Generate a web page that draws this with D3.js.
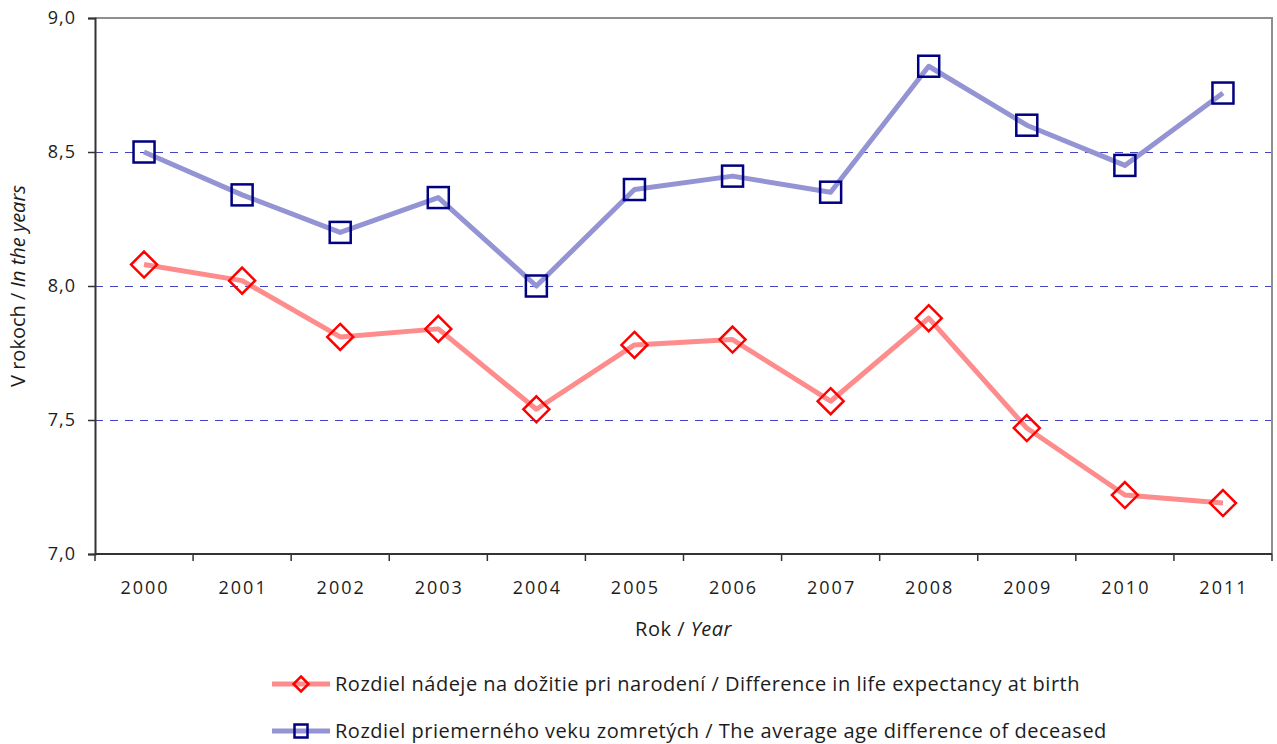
<!DOCTYPE html>
<html>
<head>
<meta charset="utf-8">
<script src="https://cdn.jsdelivr.net/npm/d3@7"></script>
<style>
  body { margin: 0; background: #fff; }
  svg { font-family: "Open Sans", "DejaVu Sans", sans-serif; fill: #1c1c1c; }
</style>
</head>
<body>
<svg id="chart" width="1277" height="744"></svg>
<script>
// Data
const years = ["2000", "2001", "2002", "2003", "2004", "2005", "2006", "2007", "2008", "2009", "2010", "2011"];
const lifeExpDiff = [8.08, 8.02, 7.81, 7.84, 7.54, 7.78, 7.80, 7.57, 7.88, 7.47, 7.22, 7.19];
const ageDiff = [8.50, 8.34, 8.20, 8.33, 8.00, 8.36, 8.41, 8.35, 8.82, 8.60, 8.45, 8.72];
const yTicks = [7.0, 7.5, 8.0, 8.5, 9.0];

const svg = d3.select("#chart");
const plotL = 95, plotR = 1272, plotT = 18, plotB = 554;

const x = d3.scaleBand().domain(years).range([plotL, plotR]);
const y = d3.scaleLinear().domain([7, 9]).range([plotB, plotT]);
const fmt = v => d3.format(".1f")(v).replace(".", ",");

// Gridlines (half-pixel offset keeps them crisp)
svg.append("g").selectAll("line")
    .data(yTicks.filter(t => t > 7 && t < 9))
    .join("line")
    .attr("x1", plotL).attr("x2", plotR)
    .attr("y1", d => y(d) + 0.5).attr("y2", d => y(d) + 0.5)
    .attr("stroke", "#4444c2")
    .attr("stroke-width", 1)
    .attr("stroke-dasharray", "8,7");

// Frame top/right
svg.append("path")
    .attr("d", `M${plotL},${plotT}H${plotR}V${plotB}`)
    .attr("fill", "none")
    .attr("stroke", "#8f8f8f")
    .attr("stroke-width", 2);

// Y axis
const yAxis = svg.append("g")
    .attr("transform", `translate(${plotL},0)`)
    .call(d3.axisLeft(y).tickValues(yTicks).tickFormat(fmt).tickSize(7).tickPadding(12));
yAxis.select(".domain").attr("stroke", "#333").attr("stroke-width", 2);
yAxis.selectAll(".tick line").attr("stroke", "#333").attr("stroke-width", 1.5);
yAxis.selectAll("text").attr("font-size", 18).attr("fill", "#1c1c1c")
    .attr("letter-spacing", 1)
    .attr("font-family", "Open Sans, sans-serif");

// X axis: ticks at band boundaries
const xAxis = svg.append("g").attr("transform", `translate(0,${plotB})`);
xAxis.append("line")
    .attr("x1", plotL).attr("x2", plotR)
    .attr("stroke", "#333").attr("stroke-width", 2);
xAxis.selectAll(".xt")
    .data(years.concat(["end"]))
    .join("line")
    .attr("class", "xt")
    .attr("x1", (d, i) => i < years.length ? x(d) : x.range()[1])
    .attr("x2", (d, i) => i < years.length ? x(d) : x.range()[1])
    .attr("y1", 0).attr("y2", 7)
    .attr("stroke", "#333").attr("stroke-width", 1.5);
xAxis.selectAll(".xl")
    .data(years)
    .join("text")
    .attr("class", "xl")
    .attr("x", d => x(d) + x.bandwidth() / 2 + 1)
    .attr("y", 40)
    .attr("text-anchor", "middle")
    .attr("font-size", 18)
    .attr("letter-spacing", 2)
    .text(d => d);

// Axis titles
const xTitle = svg.append("text")
    .attr("x", (plotL + plotR) / 2).attr("y", 636)
    .attr("text-anchor", "middle").attr("font-size", 20).attr("letter-spacing", 0.5);
xTitle.append("tspan").text("Rok / ");
xTitle.append("tspan").attr("font-style", "italic").text("Year");

const yTitle = svg.append("text")
    .attr("transform", `translate(25,${(plotT + plotB) / 2}) rotate(-90)`)
    .attr("text-anchor", "middle").attr("font-size", 20);
yTitle.append("tspan").text("V rokoch / ");
yTitle.append("tspan").attr("font-style", "italic").text("In the years");

// Series
const series = [
  { name: "Rozdiel nádeje na dožitie pri narodení / Difference in life expectancy at birth",
    values: lifeExpDiff, line: "#ff8c8c", mark: "#ff0000", shape: "diamond" },
  { name: "Rozdiel priemerného veku zomretých / The average age difference of deceased",
    values: ageDiff, line: "#9494d4", mark: "#000080", shape: "square" }
];

const line = d3.line()
    .x((d, i) => x(years[i]) + x.bandwidth() / 2)
    .y(d => y(d));

function drawMarker(g, shape, color) {
  if (shape === "square") {
    g.append("rect")
      .attr("x", -10.5).attr("y", -10.5).attr("width", 21).attr("height", 21)
      .attr("fill", "none").attr("stroke", color).attr("stroke-width", 2.5);
  } else {
    g.append("path")
      .attr("d", "M0,-13L13,0L0,13L-13,0Z")
      .attr("fill", "none").attr("stroke", color).attr("stroke-width", 2.5);
  }
}

series.forEach(s => {
  svg.append("path")
    .datum(s.values)
    .attr("d", line)
    .attr("fill", "none")
    .attr("stroke", s.line)
    .attr("stroke-width", 5)
    .attr("stroke-linejoin", "round");
  s.values.forEach((v, i) => {
    const g = svg.append("g")
      .attr("transform", `translate(${x(years[i]) + x.bandwidth() / 2},${y(v)})`);
    drawMarker(g, s.shape, s.mark);
  });
});

// Legend
const legendY = [684, 731];
series.forEach((s, i) => {
  const g = svg.append("g").attr("transform", `translate(272,${legendY[i]})`);
  g.append("line").attr("x1", 0).attr("x2", 58)
    .attr("stroke", s.line).attr("stroke-width", 5);
  const m = g.append("g").attr("transform", "translate(29,0)");
  if (s.shape === "square") {
    m.append("rect").attr("x", -6.5).attr("y", -6.5).attr("width", 13).attr("height", 13)
      .attr("fill", "none").attr("stroke", s.mark).attr("stroke-width", 2.5);
  } else {
    m.append("path").attr("d", "M0,-7.5L7.5,0L0,7.5L-7.5,0Z")
      .attr("fill", "none").attr("stroke", s.mark).attr("stroke-width", 2.5);
  }
  g.append("text").attr("x", 63).attr("y", 7)
    .attr("font-size", 20).attr("letter-spacing", 0.5).text(s.name);
});
</script>
</body>
</html>
